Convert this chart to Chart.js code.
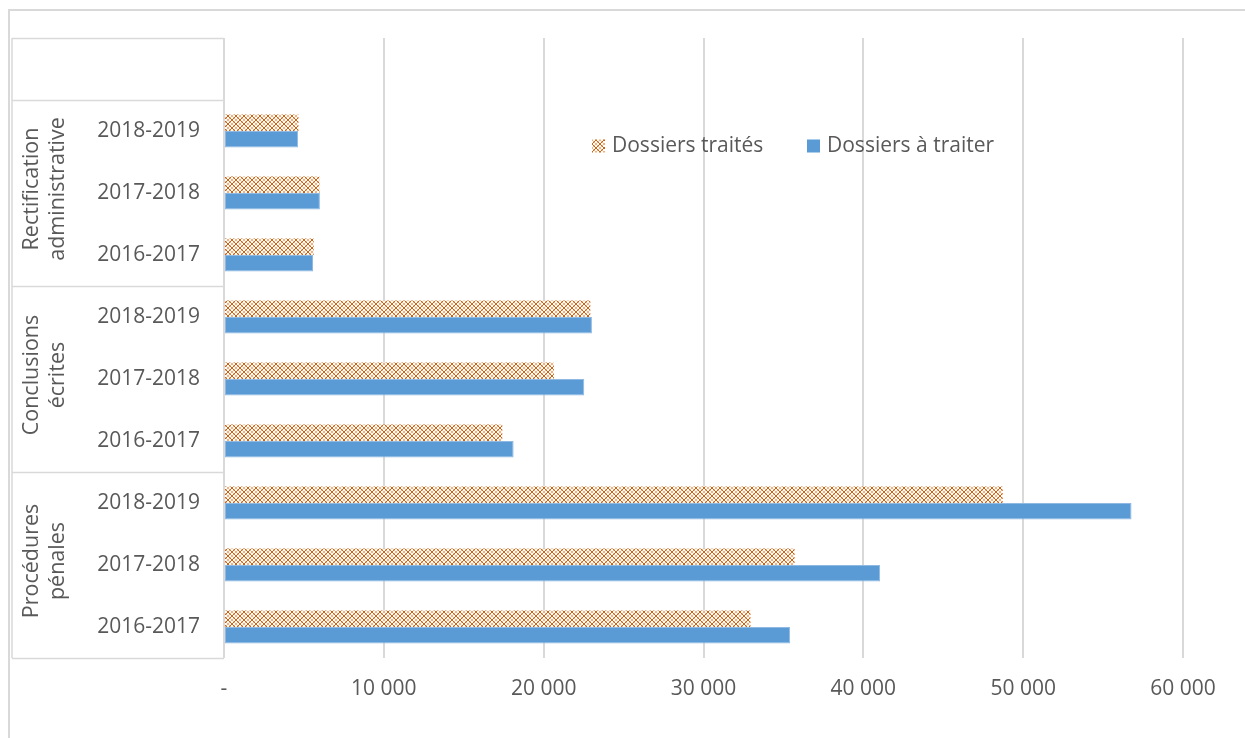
<!DOCTYPE html>
<html>
<head>
<meta charset="utf-8">
<script src="https://cdn.jsdelivr.net/npm/chart.js@4/dist/chart.umd.min.js"></script>
<style>
  html, body { margin: 0; padding: 0; background: #ffffff; }
  #wrap { position: relative; width: 1245px; height: 738px; overflow: hidden; }
  canvas { position: absolute; left: 0; top: 0; }
</style>
</head>
<body>
<div id="wrap"><canvas id="c" width="1245" height="738"></canvas></div>
<script>
// ---- data ----
const groupLabels = [['Rectification', 'administrative'], ['Conclusions', 'écrites'], ['Procédures', 'pénales']];
const years = ['2018-2019', '2017-2018', '2016-2017'];
// categories top to bottom (first slot is an empty row)
const categories = ['', '2018-2019', '2017-2018', '2016-2017', '2018-2019', '2017-2018', '2016-2017', '2018-2019', '2017-2018', '2016-2017'];
const seriesNames = ['Dossiers traités', 'Dossiers à traiter'];
const dossiersTraites = [null, 4660, 5970, 5610, 22920, 20640, 17410, 48720, 35700, 32940];
const dossiersATraiter = [null, 4640, 6000, 5570, 23020, 22540, 18120, 56780, 41050, 35420];
const xTickValues = [0, 10000, 20000, 30000, 40000, 50000, 60000];
const xTickLabels = ['-', '10 000', '20 000', '30 000', '40 000', '50 000', '60 000'];

// ---- styles ----
const FONT = '"Open Sans", "Noto Sans", sans-serif';
const TEXT = '#595959';
const LINE = '#d9d9d9';
const BLUE = '#5b9bd5';

function makePattern() {
  const p = document.createElement('canvas');
  p.width = 8; p.height = 8;
  const g = p.getContext('2d');
  g.fillStyle = '#ffffff';
  g.fillRect(0, 0, 8, 8);
  for (let y = 0; y < 8; y++) {
    for (let x = 0; x < 8; x++) {
      const d1 = ((x - y) % 8 + 8) % 8;
      const d2 = (x + y + 1) % 8;
      if (d1 === 0 || d2 === 0) {
        g.fillStyle = '#d2610f';
        g.fillRect(x, y, 1, 1);
      } else if (d1 === 4 || d2 === 4) {
        g.fillStyle = '#f3b07e';
        g.fillRect(x, y, 1, 1);
      }
    }
  }
  return g.createPattern(p, 'repeat');
}
const orangePattern = makePattern();

const tablePlugin = {
  id: 'tablePlugin',
  beforeDraw(chart) {
    const ctx = chart.ctx;
    ctx.save();
    ctx.fillStyle = '#ffffff';
    ctx.fillRect(0, 0, chart.width, chart.height);
    // outer frame
    ctx.strokeStyle = LINE;
    ctx.lineWidth = 2;
    ctx.beginPath();
    ctx.moveTo(9, 745); ctx.lineTo(9, 10); ctx.lineTo(1250, 10);
    ctx.stroke();
    ctx.restore();
  },
  afterDraw(chart) {
    const ctx = chart.ctx;
    const y = chart.scales.y;
    const area = chart.chartArea;
    const band = (y.getPixelForValue(1) - y.getPixelForValue(0));
    const left = 12, right = area.left;
    ctx.save();
    ctx.strokeStyle = LINE;
    ctx.lineWidth = 1.5;
    // horizontal separators
    const boundaries = [0, 1, 4, 7, 10];
    ctx.beginPath();
    boundaries.forEach(i => {
      const py = Math.round(y.getPixelForValue(i) - band / 2) + 0.5;
      ctx.moveTo(left, py); ctx.lineTo(right, py);
    });
    ctx.moveTo(left, area.top); ctx.lineTo(left, area.bottom);
    ctx.stroke();
    // group labels, rotated
    ctx.fillStyle = TEXT;
    ctx.font = '21.5px ' + FONT;
    ctx.textAlign = 'center';
    ctx.textBaseline = 'middle';
    groupLabels.forEach((lines, gi) => {
      const i0 = 1 + gi * 3;
      const cy = (y.getPixelForValue(i0) + y.getPixelForValue(i0 + 2)) / 2 - 4;
      const cx = 45;
      ctx.save();
      ctx.translate(cx, cy);
      ctx.rotate(-Math.PI / 2);
      const lh = 26;
      lines.forEach((t, li) => {
        ctx.fillText(t, 0, (li - (lines.length - 1) / 2) * lh);
      });
      ctx.restore();
    });
    // legend
    ctx.font = '21px ' + FONT;
    const legendPos = [[592, 146], [807, 146]];
    chart.data.datasets.forEach((ds, di) => {
      const [lx, ly] = legendPos[di];
      ctx.fillStyle = ds.backgroundColor;
      ctx.fillRect(lx, ly - 6.5, 13, 13);
      ctx.fillStyle = TEXT;
      ctx.textAlign = 'left';
      ctx.textBaseline = 'middle';
      ctx.fillText(ds.label, lx + 20, ly);
    });
    ctx.restore();
  }
};

Chart.defaults.font.family = FONT;
Chart.defaults.color = TEXT;

new Chart(document.getElementById('c'), {
  type: 'bar',
  data: {
    labels: categories,
    datasets: [
      {
        label: seriesNames[0],
        data: dossiersTraites,
        backgroundColor: orangePattern,
        borderWidth: 0,
        barPercentage: 1.0,
        categoryPercentage: 0.532
      },
      {
        label: seriesNames[1],
        data: dossiersATraiter,
        backgroundColor: BLUE,
        borderColor: '#8fb9e3',
        borderWidth: 1,
        borderSkipped: false,
        barPercentage: 1.0,
        categoryPercentage: 0.532
      }
    ]
  },
  options: {
    indexAxis: 'y',
    responsive: false,
    animation: false,
    devicePixelRatio: 1,
    layout: { padding: { left: 0, right: 62, top: 38, bottom: 0 } },
    plugins: {
      legend: { display: false },
      tooltip: { enabled: false },
      title: { display: false }
    },
    scales: {
      x: {
        type: 'linear',
        min: 0,
        max: 60000,
        afterBuildTicks(scale) {
          scale.ticks = xTickValues.map(v => ({ value: v }));
        },
        afterFit(scale) { scale.height = 80; },
        grid: { display: true, color: LINE, lineWidth: 2, drawTicks: false },
        border: { display: false },
        ticks: {
          padding: 18,
          color: TEXT,
          font: { size: 21, family: FONT },
          maxRotation: 0,
          callback(value, index) { return xTickLabels[index]; }
        }
      },
      y: {
        type: 'category',
        afterFit(scale) { scale.width = 224; },
        grid: { display: false, drawTicks: false },
        border: { display: false },
        ticks: {
          padding: 24,
          color: TEXT,
          font: { size: 21, family: FONT },
          autoSkip: false
        }
      }
    }
  },
  plugins: [tablePlugin]
});
</script>
</body>
</html>
